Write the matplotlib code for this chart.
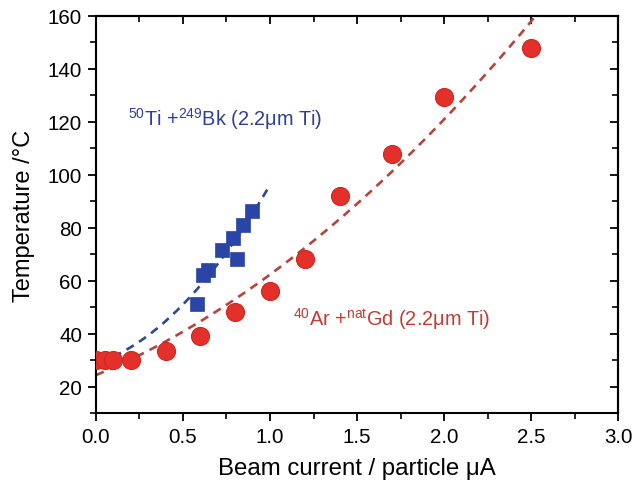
import numpy as np
import matplotlib
matplotlib.use("Agg")
import matplotlib.pyplot as plt
from matplotlib.ticker import MultipleLocator, FormatStrFormatter

plt.rcParams['font.family'] = ['Liberation Sans', 'DejaVu Sans']
plt.rcParams['mathtext.fontset'] = 'custom'
plt.rcParams['mathtext.rm'] = 'Liberation Sans'
plt.rcParams['mathtext.it'] = 'Liberation Sans'
plt.rcParams['mathtext.bf'] = 'Liberation Sans'

# Red data: 40Ar + natGd
ar_current = [0.0, 0.05, 0.1, 0.2, 0.4, 0.6, 0.8, 1.0, 1.2, 1.4, 1.7, 2.0, 2.5]
ar_temp = [30.0, 30.0, 30.0, 30.2, 33.6, 39.2, 48.0, 56.0, 68.0, 92.0, 108.0, 129.5, 148.0]

# Blue data: 50Ti + 249Bk
ti_current = [0.58, 0.617, 0.645, 0.726, 0.786, 0.809, 0.847, 0.895]
ti_temp = [51.3, 62.0, 63.9, 71.4, 76.1, 68.0, 81.1, 86.2]

# Fit curves (quadratic coefficients c0, c1, c2) and ranges
ar_fit = [24.3, 27.7, 10.3]
ar_fit_range = [0.0, 2.6]
ti_fit = [28.7, 21.7, 45.8]
ti_fit_range = [0.1, 1.0]

label_ti = r"$^{50}$Ti +$^{249}$Bk (2.2μm Ti)"
label_ar = r"$^{40}$Ar +$^{\rm nat}$Gd (2.2μm Ti)"

red = '#e3302a'
red_line = '#b8423c'
blue = '#2a45a6'
blue_line = '#2d4a8a'

fig = plt.figure(figsize=(6.34, 4.85), dpi=100)
ax = fig.add_axes([0.1514, 0.1464, 0.8234, 0.8186])

def quad(c, x):
    x = np.asarray(x)
    return c[0] + c[1] * x + c[2] * x ** 2

xr = np.linspace(ar_fit_range[0], ar_fit_range[1], 200)
ax.plot(xr, quad(ar_fit, xr), color=red_line, lw=1.9, dashes=(3.2, 2.4), zorder=2)
xb = np.linspace(ti_fit_range[0], ti_fit_range[1], 200)
ax.plot(xb, quad(ti_fit, xb), color=blue_line, lw=1.9, dashes=(3.2, 2.4), zorder=2)

ax.plot(ar_current, ar_temp, 'o', ms=13, color=red, mec='#d0281f', mew=0.8, zorder=3)
ax.plot(ti_current, ti_temp, 's', ms=10, color=blue, mec=blue, mew=0.5, zorder=4)

ax.text(0.184, 121.5, label_ti, color='#2f3f94', fontsize=14.3, va='center', ha='left')
ax.text(1.13, 45.7, label_ar, color='#c23b34', fontsize=14.3, va='center', ha='left')

ax.set_xlim(0, 3.0)
ax.set_ylim(10, 160)
ax.xaxis.set_major_locator(MultipleLocator(0.5))
ax.xaxis.set_minor_locator(MultipleLocator(0.25))
ax.xaxis.set_major_formatter(FormatStrFormatter('%.1f'))
ax.yaxis.set_minor_locator(MultipleLocator(10))
ax.set_yticks([20, 40, 60, 80, 100, 120, 140, 160])

ax.tick_params(axis='both', which='major', direction='out', length=6, width=1.3,
               labelsize=14.8, colors='black', pad=4)
ax.tick_params(axis='both', which='minor', direction='out', length=4, width=1.2)
for s in ax.spines.values():
    s.set_linewidth(1.5)

# Mirror ticks on top/right pointing inward
axt = ax.secondary_xaxis('top')
axt.xaxis.set_major_locator(MultipleLocator(0.5))
axt.xaxis.set_minor_locator(MultipleLocator(0.25))
axt.tick_params(which='major', direction='in', length=6, width=1.3, labeltop=False)
axt.tick_params(which='minor', direction='in', length=4, width=1.2)
axt.spines['top'].set_linewidth(1.5)
axr = ax.secondary_yaxis('right')
axr.yaxis.set_major_locator(MultipleLocator(20))
axr.yaxis.set_minor_locator(MultipleLocator(10))
axr.tick_params(which='major', direction='in', length=6, width=1.3, labelright=False)
axr.tick_params(which='minor', direction='in', length=4, width=1.2)
axr.spines['right'].set_linewidth(1.5)

ax.set_xlabel('Beam current / particle μA', fontsize=17.3, labelpad=8)
ax.set_ylabel('Temperature /°C', fontsize=17, labelpad=9)

fig.savefig('out.png', dpi=100)
